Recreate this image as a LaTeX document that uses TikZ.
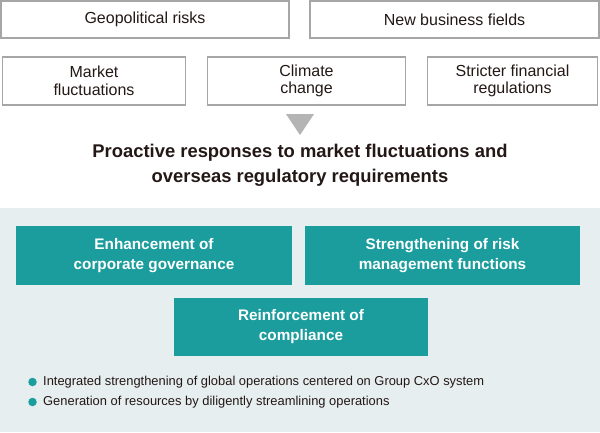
\documentclass[tikz,border=0pt]{standalone}
\usepackage{fontspec}
\setmainfont{Liberation Sans}
\definecolor{framegray}{HTML}{A6A6A6}
\definecolor{arrowgray}{HTML}{B4B4B4}
\definecolor{paleblue}{HTML}{E6EEEF}
\definecolor{teal1}{HTML}{1B9C9D}
\definecolor{textdark}{HTML}{231815}
\tikzset{
  factor/.style={draw=framegray, line width=1.4pt, fill=white, align=center,
    inner sep=0pt, font=\fontsize{16}{17.5}\selectfont, text=textdark},
  measure/.style={fill=teal1, align=center, inner sep=0pt, text=white,
    font=\bfseries\fontsize{15.3}{20}\selectfont},
  bulletdot/.style={circle, fill=teal1, inner sep=0pt, minimum size=8.5pt},
  bullettext/.style={anchor=west, inner sep=0pt, text=textdark,
    font=\fontsize{12.9}{14}\selectfont}
}
\begin{document}
\begin{tikzpicture}[x=1pt, y=-1pt]
  \useasboundingbox (0,0) rectangle (600,432);

  % lower shading
  \fill[paleblue] (0,208) rectangle (600,432);

  % external factors
  \node[factor, minimum width=288pt, minimum height=37pt] (geo) at (145,19.5) {Geopolitical risks};
  \node[factor, minimum width=289pt, minimum height=37pt] (newbiz) at (454.5,19.5) {New business fields};
  \node[factor, minimum width=183pt, minimum height=48pt] (market) at (94,81) {Market\\fluctuations};
  \node[factor, minimum width=198pt, minimum height=48pt] (climate) at (306.5,81) {Climate\\change};
  \node[factor, minimum width=170pt, minimum height=48pt] (stricter) at (512.5,81) {Stricter financial\\regulations};

  % arrow down
  \coordinate (tipL) at (286,114);
  \coordinate (tipR) at (314,114);
  \coordinate (tipB) at (300,135);
  \fill[arrowgray] (tipL) -- (tipR) -- (tipB) -- cycle;

  % heading
  \node[align=center, text=textdark, font=\bfseries\fontsize{18.4}{25}\selectfont] (heading) at (300,165)
    {Proactive responses to market fluctuations and\\overseas regulatory requirements};

  % responses
  \node[measure, minimum width=276pt, minimum height=59pt] (governance) at (154,255.5) {Enhancement of\\corporate governance};
  \node[measure, minimum width=275pt, minimum height=59pt] (riskmgmt) at (442.5,255.5) {Strengthening of risk\\management functions};
  \node[measure, minimum width=254pt, minimum height=58pt] (compliance) at (301,327) {Reinforcement of\\compliance};

  % bullet points
  \node[bulletdot] (dotA) at (32.5,382) {};
  \node[bullettext] (itemA) at (43,382) {Integrated strengthening of global operations centered on Group CxO system};
  \node[bulletdot] (dotB) at (32.5,402) {};
  \node[bullettext] (itemB) at (43,402) {Generation of resources by diligently streamlining operations};
\end{tikzpicture}
\end{document}
